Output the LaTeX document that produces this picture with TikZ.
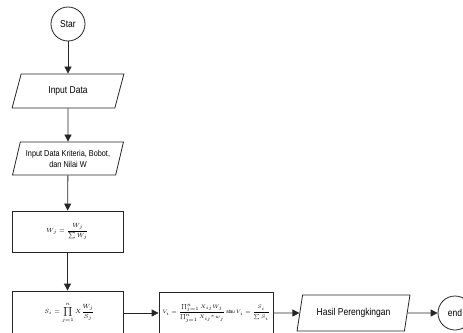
\documentclass[tikz,border=0pt]{standalone}
\usepackage{amsmath}
\usepackage{fontspec}
\setmainfont{Liberation Sans}[FakeStretch=0.85]
\usetikzlibrary{shapes.geometric,arrows.meta}
\tikzset{
  fl/.style={draw=black!85,line width=0.8pt},
  term/.style={fl,circle,minimum size=34pt,inner sep=0pt,font=\fontsize{10}{11}\selectfont},
  io/.style={fl,trapezium,trapezium left angle=70,trapezium right angle=110,
    trapezium stretches=true,inner sep=1pt,align=center},
  proc/.style={fl,rectangle,minimum width=111pt,inner sep=1pt,font=\fontsize{6.2}{7}\selectfont},
  arr/.style={draw=black!85,line width=0.8pt,-{Triangle[length=7pt,width=7pt]}}
}
\begin{document}
\begin{tikzpicture}[x=1pt,y=-1pt]
\useasboundingbox (0,0) rectangle (463,332);
\clip (0,0) rectangle (463,332);
  \node [term] (s) at (68,24) {Star};
  \node [io,minimum width=112pt,minimum height=34pt,font=\fontsize{10}{11}\selectfont] (in) at (68,91) {Input Data};
  \node [io,minimum width=112pt,minimum height=33pt,font=\fontsize{8.6}{11}\selectfont] (kr) at (68,158.5) {Input Data Kriteria, Bobot,\\dan Nilai W};
  \node [proc,minimum height=41pt] (w) at (67.5,231.5) {$W_j=\dfrac{W_j}{\sum W_j}$\hspace{14pt}};
  \node [proc,minimum height=44pt] (si) at (67.5,313) {\hspace{4pt}$S_i=\displaystyle\prod_{j=1}^{n} X\frac{W_j}{S_j}$};
  \node [proc,minimum width=114pt,minimum height=42pt,font=\fontsize{5.1}{6}\selectfont] (v) at (216,313)
    {$V_i=\dfrac{\prod_{j=1}^{n} X_{ij}W_j}{\prod_{j=1}^{n} X_{ij}{}^{*}w_j}$ atau $V_i=\dfrac{S_i}{\sum S_i}$};
  \node [io,minimum width=113pt,minimum height=36pt,font=\fontsize{10}{11}\selectfont] (h) at (353.5,313) {Hasil Perengkingan};
  \node [term] (e) at (455,313) {end};

\draw [arr] (s) to (in);
\draw [arr] (in) to (kr);
\draw [arr] (kr) to (w);
\draw [arr] (w) to (si.north);
\draw [arr] (si) to (v);
\draw [arr] (v) to (h);
\draw [arr] (h) to (e);
\end{tikzpicture}
\end{document}
